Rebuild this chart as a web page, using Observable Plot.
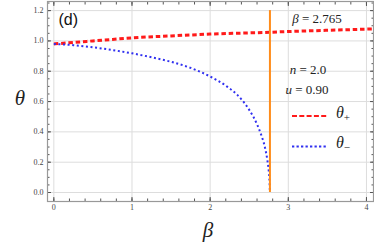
<!DOCTYPE html>
<html>
<head>
<meta charset="utf-8">
<script src="https://cdn.jsdelivr.net/npm/d3@7"></script>
<script src="https://cdn.jsdelivr.net/npm/@observablehq/plot@0.6"></script>
<style>
  html, body { margin: 0; padding: 0; background: #fff; }
  #wrap { position: relative; width: 374px; height: 245px; }
  #wrap svg { position: absolute; left: 0; top: 0; }
</style>
</head>
<body>
<div id="wrap"></div>
<script>
// ---- data ----
const betaPlus  = [0, 0.25, 0.5, 0.75, 1.0, 1.5, 2.0, 2.5, 2.765, 3.0, 3.5, 4.09];
const thetaPlus = [0.98, 0.99, 1.0, 1.01, 1.02, 1.033, 1.045, 1.053, 1.057, 1.062, 1.07, 1.079];

const betaMinus  = [0, 0.25, 0.5, 0.75, 1.0, 1.25, 1.5, 1.75, 2.0, 2.2, 2.4, 2.5, 2.6, 2.65, 2.7, 2.73, 2.75, 2.76, 2.765];
const thetaMinus = [0.98, 0.972, 0.958, 0.94, 0.918, 0.892, 0.862, 0.822, 0.765, 0.705, 0.615, 0.545, 0.45, 0.385, 0.30, 0.22, 0.14, 0.07, 0.0];

const betaCrit = 2.765;
const critLine = [0, 1.2];  // vertical extent of the critical line

const xMajor = [0, 1, 2, 3, 4];
const xMinor = d3.range(0, 4.01, 0.2);
const yMajor = [0, 0.2, 0.4, 0.6, 0.8, 1.0, 1.2];
const yMinor = d3.range(0, 1.251, 0.05);

const plusData  = betaPlus.map((b, i) => ({beta: b, theta: thetaPlus[i]}));
const minusData = betaMinus.map((b, i) => ({beta: b, theta: thetaMinus[i]}));

const serif = "'Liberation Serif', 'DejaVu Serif', serif";
const axisColor = "#999";
const red = "#ff1a1a";
const blue = "#3030f0";
const noText = () => "";

const chart = Plot.plot({
  width: 374,
  height: 245,
  marginLeft: 47,
  marginRight: 1,
  marginTop: 1,
  marginBottom: 44,
  style: {fontFamily: serif, fontSize: "8px", background: "transparent"},
  x: {domain: [-0.081, 4.09]},
  y: {domain: [-0.0593, 1.26]},
  marks: [
    Plot.gridX(xMajor, {stroke: "#ddd", strokeOpacity: 1}),
    Plot.gridY(yMajor, {stroke: "#ddd", strokeOpacity: 1}),
    // inward ticks on all sides
    Plot.axisX(xMajor, {anchor: "bottom", tickSize: -4, tickFormat: noText, stroke: "#555", label: null}),
    Plot.axisX(xMinor, {anchor: "bottom", tickSize: -2.5, tickFormat: noText, stroke: "#555", label: null}),
    Plot.axisX(xMajor, {anchor: "top", tickSize: -4, tickFormat: noText, stroke: "#555", label: null}),
    Plot.axisX(xMinor, {anchor: "top", tickSize: -2.5, tickFormat: noText, stroke: "#555", label: null}),
    Plot.axisY(yMajor, {anchor: "left", tickSize: -4, tickFormat: noText, stroke: "#555", label: null}),
    Plot.axisY(yMinor, {anchor: "left", tickSize: -2.5, tickFormat: noText, stroke: "#555", label: null}),
    Plot.axisY(yMajor, {anchor: "right", tickSize: -4, tickFormat: noText, stroke: "#555", label: null}),
    Plot.axisY(yMinor, {anchor: "right", tickSize: -2.5, tickFormat: noText, stroke: "#555", label: null}),
    // tick labels
    Plot.axisX(xMajor, {anchor: "bottom", tickSize: 0, tickPadding: 3, tickFormat: d3.format("d"), fill: "#444", label: null}),
    Plot.axisY(yMajor, {anchor: "left", tickSize: 0, tickPadding: 4, tickFormat: d3.format(".1f"), fill: "#444", label: null}),
    Plot.frame({stroke: axisColor, strokeWidth: 1.2}),
    // curves
    Plot.line(plusData, {x: "beta", y: "theta", stroke: red, strokeWidth: 3, strokeDasharray: "4.5,2.8", strokeLinecap: "butt", curve: "monotone-x"}),
    Plot.line(minusData, {x: "beta", y: "theta", stroke: blue, strokeWidth: 2, strokeDasharray: "2,2.6", strokeLinecap: "butt", curve: "monotone-x"}),
    Plot.ruleX([betaCrit], {y1: critLine[0], y2: critLine[1], stroke: "#ff8c1a", strokeWidth: 2}),
    // panel tag
    Plot.text(["(d)"], {frameAnchor: "top-left", dx: 11, dy: 18, textAnchor: "start", lineAnchor: "middle",
      fontFamily: "'Liberation Sans', Arial, sans-serif", fontSize: 16, fill: "#111"})
  ]
});

const wrap = document.getElementById("wrap");
wrap.appendChild(chart);

// overlay: axis titles, annotations and legend
const ov = d3.select(wrap).append("svg")
  .attr("width", 374).attr("height", 245)
  .style("pointer-events", "none")
  .attr("font-family", serif);

ov.append("text").attr("x", 20).attr("y", 100).attr("text-anchor", "middle").attr("dominant-baseline", "middle")
  .attr("font-size", 21).attr("font-style", "italic").attr("fill", "#222").text("θ");
ov.append("text").attr("x", 208).attr("y", 232).attr("text-anchor", "middle").attr("dominant-baseline", "middle")
  .attr("font-size", 21).attr("font-style", "italic").attr("fill", "#222").text("β");

function mathText(x, y, sym, rest) {
  const t = ov.append("text").attr("x", x).attr("y", y).attr("text-anchor", "middle")
    .attr("dominant-baseline", "middle").attr("font-size", 13).attr("fill", "#222");
  t.append("tspan").attr("font-style", "italic").text(sym);
  t.append("tspan").text(rest);
}
mathText(317, 20, "β", " = " + betaCrit.toFixed(3));
mathText(308, 71, "n", " = 2.0");
mathText(307, 91, "u", " = 0.90");

// legend
ov.append("line").attr("x1", 292).attr("x2", 328).attr("y1", 116).attr("y2", 116)
  .attr("stroke", red).attr("stroke-width", 2.2).attr("stroke-dasharray", "5,2.3");
ov.append("line").attr("x1", 292).attr("x2", 328).attr("y1", 146.5).attr("y2", 146.5)
  .attr("stroke", blue).attr("stroke-width", 2).attr("stroke-dasharray", "2.3,2.2");

function legLabel(y, sub) {
  const t = ov.append("text").attr("x", 336).attr("y", y).attr("dominant-baseline", "middle")
    .attr("font-size", 16).attr("fill", "#222");
  t.append("tspan").attr("font-style", "italic").text("θ");
  t.append("tspan").attr("font-size", 11).attr("dy", 4).text(sub);
}
legLabel(114, "+");
legLabel(144, "−");
</script>
</body>
</html>
